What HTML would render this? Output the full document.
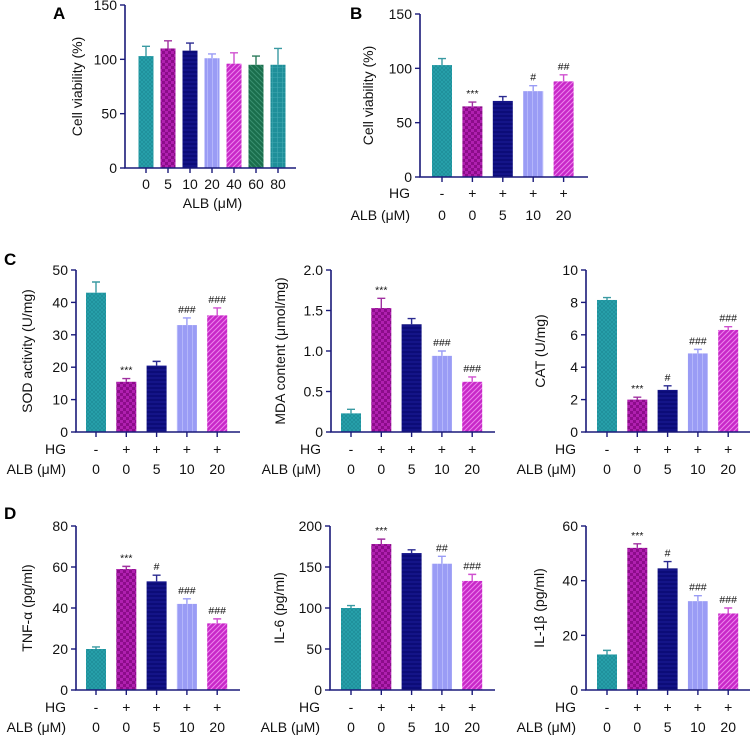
<!DOCTYPE html>
<html><head><meta charset="utf-8">
<style>
html,body{margin:0;padding:0;background:#fff;}
svg{display:block;font-family:"Liberation Sans",Arial,sans-serif;}
</style></head>
<body>
<svg id="fig" width="752" height="735" viewBox="0 0 752 735" xmlns="http://www.w3.org/2000/svg">
<defs>
<pattern id="p0" width="4" height="4" patternUnits="userSpaceOnUse"><rect width="4" height="4" fill="#1f8f9a"/><path d="M0 0L4 4M4 0L0 4" stroke="#2aa8b2" stroke-width="0.6"/></pattern>
<pattern id="p1" width="6" height="6" patternUnits="userSpaceOnUse"><rect width="6" height="6" fill="#8c0c8a"/><rect width="3" height="3" fill="#b020b0"/><rect x="3" y="3" width="3" height="3" fill="#b020b0"/></pattern>
<pattern id="p2" width="4" height="4" patternUnits="userSpaceOnUse"><rect width="4" height="4" fill="#0c0c78"/><path d="M0 2H4" stroke="#2020a0" stroke-width="0.8"/></pattern>
<pattern id="p3" width="5" height="5" patternUnits="userSpaceOnUse"><rect width="5" height="5" fill="#9a9cf5"/><path d="M2.5 0V5" stroke="#b4b6fa" stroke-width="1"/></pattern>
<pattern id="p4" width="5" height="5" patternUnits="userSpaceOnUse"><rect width="5" height="5" fill="#c828c8"/><path d="M0 5L5 0M-1 1L1 -1M4 6L6 4" stroke="#ec80ec" stroke-width="1.1"/></pattern>
<pattern id="p5" width="5" height="5" patternUnits="userSpaceOnUse"><rect width="5" height="5" fill="#1a6e4c"/><path d="M0 0L5 5M-1 4L1 6M4 -1L6 1" stroke="#3a9070" stroke-width="1"/></pattern>
<pattern id="p6" width="5" height="5" patternUnits="userSpaceOnUse"><rect width="5" height="5" fill="#1f8f9a"/><path d="M0 2.5H5M2.5 0V5" stroke="#40a8b0" stroke-width="0.6"/></pattern>
</defs>
</svg>
<script>
// Panel A
const catsA = ["0","5","10","20","40","60","80"];
const valsA = [103,110,108,101,96,95,95];
const errA  = [9,7,7,4,10,8,15];
// Panel B
const hgRow  = ["-","+","+","+","+"];
const albRow = ["0","0","5","10","20"];
const valsB = [103,65,70,79,88];
const errB  = [6,4,4,5,6];
const sigB  = ["","***","","#","##"];
// Panel C
const valsSOD = [43,15.5,20.5,33,36];
const errSOD  = [3.3,1,1.3,2.2,2.3];
const sigSOD  = ["","***","","###","###"];
const valsMDA = [0.23,1.53,1.33,0.94,0.62];
const errMDA  = [0.05,0.12,0.07,0.06,0.06];
const sigMDA  = ["","***","","###","###"];
const valsCAT = [8.15,2.0,2.6,4.85,6.3];
const errCAT  = [0.15,0.15,0.25,0.25,0.2];
const sigCAT  = ["","***","#","###","###"];
// Panel D
const valsTNF = [20,59,53,42,32.5];
const errTNF  = [1,1.3,3,2.5,2.2];
const sigTNF  = ["","***","#","###","###"];
const valsIL6 = [100,178,167,154,133];
const errIL6  = [3,6,4,9,8];
const sigIL6  = ["","***","","##","###"];
const valsIL1 = [13,52,44.5,32.5,28];
const errIL1  = [1.5,1.5,2.5,2,2];
const sigIL1  = ["","***","#","###","###"];

const svg = document.getElementById('fig');
const NS = "http://www.w3.org/2000/svg";
const AX = "#1a1a7a";
const fills = ["url(#p0)","url(#p1)","url(#p2)","url(#p3)","url(#p4)","url(#p5)","url(#p6)"];
const errCol = ["#3a9aa2","#a030a0","#2a2a90","#9a9cf5","#d050d0","#2a7a5a","#3a9aa2"];

function mk(tag, attrs, parent){
  const e = document.createElementNS(NS, tag);
  for (const k in attrs) e.setAttribute(k, attrs[k]);
  (parent||svg).appendChild(e);
  return e;
}
function txt(s, x, y, size, anchor, parent){
  const t = mk('text', {x:x, y:y, 'font-size':size, 'text-anchor':anchor||'middle', fill:'#111'}, parent);
  t.textContent = s;
  return t;
}

function panel(o){
  const g = mk('g', {});
  
  
  const yS = v => o.y0 - (v - 0) / o.max * (o.y0 - o.y1);
  const xS = i => o.c0 + i * o.step;
  o.vals.forEach((v,i) => {
    const ci = o.colors ? o.colors[i] : i;
    const top = yS(v), bx = xS(i) - o.bw/2;
    const r = mk('rect', {x:bx, y:top, width:o.bw, height:o.y0 - top, fill:fills[ci]}, g);
    
    
    const e = yS(v + o.err[i]);
    const eb = mk('path', {d:`M${xS(i)} ${top}V${e}M${xS(i)-4} ${e}H${xS(i)+4}`, stroke:errCol[ci], 'stroke-width':1.4, fill:'none'}, g);
    
    
    if (o.sig && o.sig[i]) {
      const s = txt(o.sig[i], xS(i), e - 5, 10.5, 'middle', g);
      
      
    }
  });
  const ax = mk('path', {d:`M${o.ax} ${o.y1}V${o.y0}H${o.xend}`, stroke:AX, 'stroke-width':1.6, fill:'none'}, g);
  
  
  o.ticks.forEach(t => {
    const y = yS(t);
    mk('path', {d:`M${o.ax-5} ${y}H${o.ax}`, stroke:AX, 'stroke-width':1.4}, g);
    const l = txt(o.fmt ? o.fmt(t) : String(t), o.ax - 8, y + 5, 14, 'end', g);
    
    
  });
  o.vals.forEach((v,i) => {
    mk('path', {d:`M${xS(i)} ${o.y0}V${o.y0+5}`, stroke:AX, 'stroke-width':1.4}, g);
  });
  const yt = txt(o.ytitle, 0, 0, 14, 'middle', g);
  yt.setAttribute('transform', `translate(${o.ax + o.ytOff},${(o.y0+o.y1)/2}) rotate(-90)`);
  
  
  if (o.cats) {
    o.cats.forEach((c,i) => {
      const l = txt(c, xS(i), o.y0 + 21, 14, 'middle', g);
      
      
    });
    const xt = txt(o.xtitle, (o.ax + o.xend)/2 + 2, o.y0 + 40, 14, 'middle', g);
    
    
  } else {
    const hy = o.y0 + o.rowOff1, ay = o.y0 + o.rowOff2;
    const h = txt('HG', o.ax - 10, hy + 5, 14, 'end', g);
    
    
    const a = txt('ALB (μM)', o.ax - 10, ay + 5, 14, 'end', g);
    
    
    hgRow.forEach((c,i) => { const t = txt(c, xS(i), hy + 5, 14, 'middle', g);   });
    albRow.forEach((c,i) => { const t = txt(c, xS(i), ay + 5, 14, 'middle', g);   });
  }
}

panel({name:'panel-a', vals:valsA, err:errA, cats:catsA, xtitle:'ALB (μM)', ytitle:'Cell viability (%)', max:150, ticks:[0,50,100,150],
  ax:125, y0:168, y1:5, xend:296, c0:146, step:22, bw:15, ytOff:-43});
panel({name:'panel-b', vals:valsB, err:errB, sig:sigB, ytitle:'Cell viability (%)', max:150, ticks:[0,50,100,150],
  ax:420, y0:177, y1:14, xend:588, c0:442, step:30.4, bw:20, ytOff:-47, rowOff1:16, rowOff2:38});

const rowC = {y0:432, y1:270, step:30.3, bw:20, rowOff1:17, rowOff2:37};
panel(Object.assign({name:'panel-c-sod', vals:valsSOD, err:errSOD, sig:sigSOD, ytitle:'SOD activity (U/mg)', max:50, ticks:[0,10,20,30,40,50], ax:76, xend:240, c0:96, ytOff:-44}, rowC));
panel(Object.assign({name:'panel-c-mda', vals:valsMDA, err:errMDA, sig:sigMDA, ytitle:'MDA content (μmol/mg)', max:2.0, ticks:[0,0.5,1.0,1.5,2.0], fmt:n => n === 0 ? "0" : n.toFixed(1), ax:331, xend:495, c0:351, ytOff:-46}, rowC));
panel(Object.assign({name:'panel-c-cat', vals:valsCAT, err:errCAT, sig:sigCAT, ytitle:'CAT (U/mg)', max:10, ticks:[0,2,4,6,8,10], ax:586, xend:750, c0:607, ytOff:-41}, rowC));

const rowD = {y0:690, y1:526, step:30.3, bw:20, rowOff1:17, rowOff2:37};
panel(Object.assign({name:'panel-d-tnf', vals:valsTNF, err:errTNF, sig:sigTNF, ytitle:'TNF-α (pg/ml)', max:80, ticks:[0,20,40,60,80], ax:76, xend:240, c0:96, ytOff:-44}, rowD));
panel(Object.assign({name:'panel-d-il6', vals:valsIL6, err:errIL6, sig:sigIL6, ytitle:'IL-6 (pg/ml)', max:200, ticks:[0,50,100,150,200], ax:330, xend:495, c0:351, ytOff:-46}, rowD));
panel(Object.assign({name:'panel-d-il1b', vals:valsIL1, err:errIL1, sig:sigIL1, ytitle:'IL-1β (pg/ml)', max:60, ticks:[0,20,40,60], ax:586, xend:750, c0:607, ytOff:-42}, rowD));

[["A",53,19],["B",350,19],["C",4,265],["D",4,519]].forEach(p => {
  const t = mk('text', {x:p[1], y:p[2], 'font-size':17, 'font-weight':'bold', fill:'#000'});
  t.textContent = p[0];
  
  
});
</script>
</body></html>
